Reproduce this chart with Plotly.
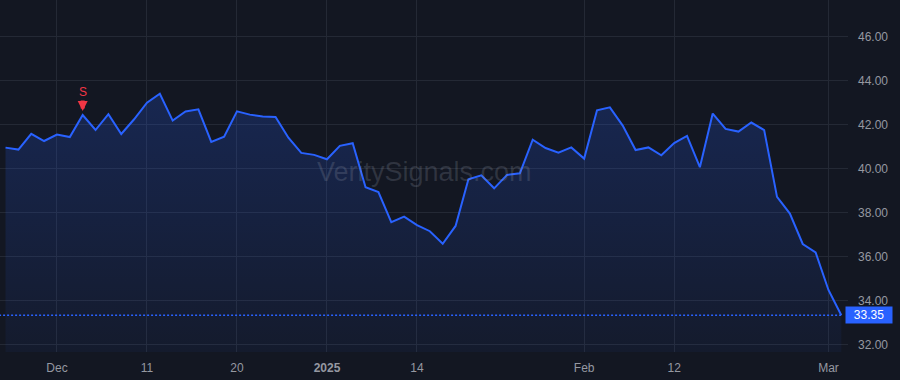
import plotly.graph_objects as go

# trading-day index based axis (Nov 25 2024 -> Mar 4 2025)
prices = [40.97, 40.88, 41.60, 41.27, 41.56, 41.45, 42.45, 41.77, 42.49, 41.59,
          42.26, 43.01, 43.42, 42.20, 42.61, 42.71, 41.23, 41.47, 42.62, 42.47,
          42.38, 42.36, 41.42, 40.73, 40.64, 40.44, 41.05, 41.17, 39.17, 38.95,
          37.58, 37.83, 37.45, 37.17, 36.60, 37.41, 39.53, 39.71, 39.12, 39.73,
          39.80, 41.33, 40.95, 40.74, 40.98, 40.47, 42.67, 42.80, 41.97, 40.86,
          40.98, 40.62, 41.18, 41.50, 40.08, 42.52, 41.82, 41.70, 42.11, 41.77,
          38.73, 37.97, 36.59, 36.21, 34.50, 33.35]
idx = list(range(len(prices)))

x_tick_pos = [4, 11, 18, 25, 32, 45, 52, 64]
x_tick_text = ["Dec", "11", "20", "<b>2025</b>", "14", "Feb", "12", "Mar"]
y_ticks = [32, 34, 36, 38, 40, 42, 44, 46]
y_tick_text = ["32.00", "34.00", "36.00", "38.00", "40.00", "42.00", "44.00", "46.00"]

signal_idx = 6
signal_label = "S"
last_price = prices[-1]

BG = "#131722"
BLUE = "#2962ff"
RED = "#f23645"
GRID = "#242935"
TXT = "#9598a1"

fig = go.Figure()
fig.add_trace(go.Scatter(
    x=idx, y=prices, mode="lines",
    line=dict(color=BLUE, width=2),
    fill="tozeroy",
    fillgradient=dict(type="vertical", start=31.68, stop=44.0,
                      colorscale=[[0, "rgba(41,98,255,0.05)"], [1, "rgba(41,98,255,0.22)"]]),
    hoverinfo="skip", showlegend=False,
))

# last price dotted line
fig.add_shape(type="line", xref="x", yref="y", x0=-0.5, x1=idx[-1],
              y0=last_price, y1=last_price,
              line=dict(color=BLUE, width=1.5, dash="2px,2px"))

# last price label
fig.add_annotation(xref="paper", yref="y", x=1, y=last_price, xanchor="left",
                   xshift=-3, text=f"{last_price:.2f}", showarrow=False,
                   bgcolor=BLUE, font=dict(color="#ffffff", size=12, family="Liberation Sans, Arial"),
                   width=44, height=14, borderpad=1, align="center")

# signal marker
fig.add_annotation(x=signal_idx, y=prices[signal_idx], yref="y", text=signal_label,
                   showarrow=False, yshift=23, font=dict(color=RED, size=12, family="Liberation Sans, Arial"))
fig.add_annotation(x=signal_idx, y=prices[signal_idx], yref="y", text="",
                   showarrow=True, ax=0, ay=-12, yshift=4,
                   arrowcolor=RED, arrowwidth=4, arrowhead=2, arrowsize=0.5, standoff=0)

# watermark
fig.add_annotation(xref="paper", yref="paper", x=0.5, y=0.511, text="VeritySignals.com",
                   showarrow=False, font=dict(color="rgba(150,156,172,0.22)", size=27,
                                              family="Liberation Sans, Arial"))

fig.update_layout(
    width=900, height=380,
    margin=dict(l=0, r=52, t=0, b=28),
    paper_bgcolor=BG, plot_bgcolor=BG,
    font=dict(family="Liberation Sans, Arial", color=TXT, size=12),
    xaxis=dict(range=[-0.43, 65.52], tickmode="array", tickvals=x_tick_pos,
               ticktext=x_tick_text, showgrid=True, gridcolor=GRID, gridwidth=1,
               zeroline=False, showline=False, ticks="", ticklabelstandoff=7,
               tickfont=dict(color=TXT, size=12)),
    yaxis=dict(range=[31.68, 47.68], side="right", tickmode="array", tickvals=y_ticks,
               ticktext=y_tick_text, showgrid=True, gridcolor=GRID, gridwidth=1,
               zeroline=False, showline=False, ticks="", ticklabelstandoff=9,
               tickfont=dict(color=TXT, size=12)),
)

fig.write_html("out.html")
